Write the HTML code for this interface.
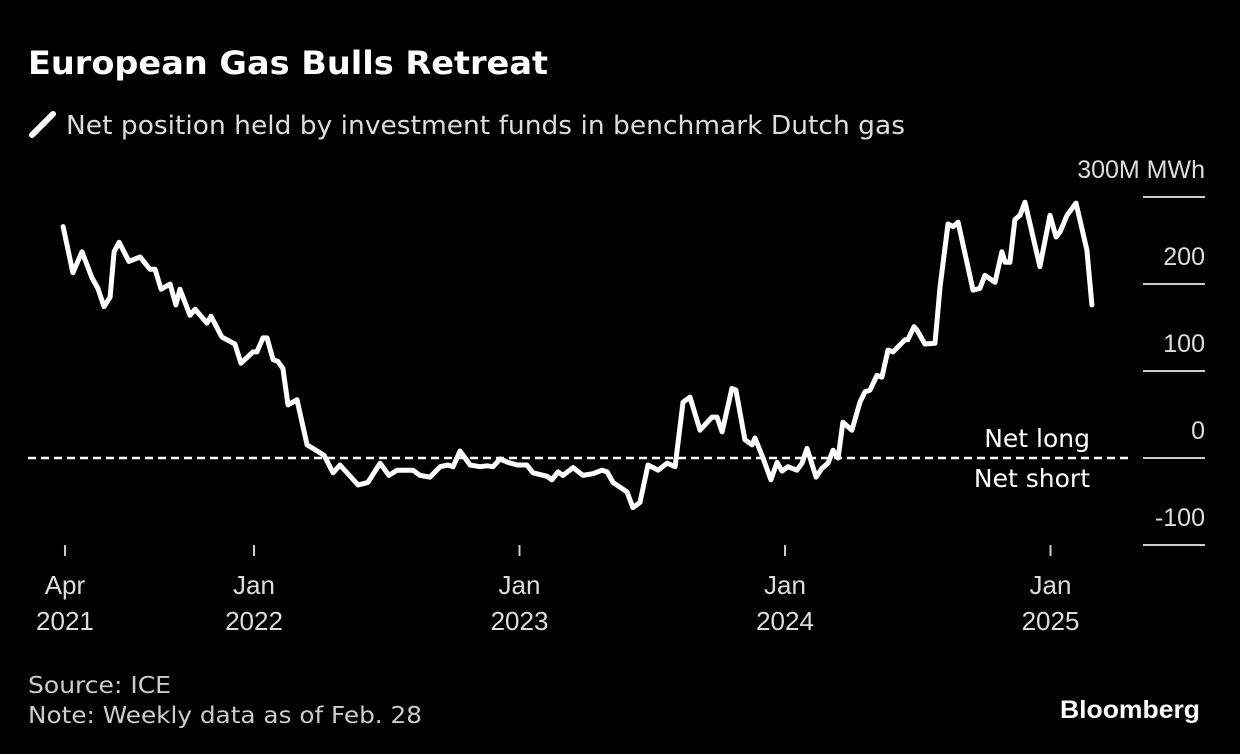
<!DOCTYPE html>
<html><head><meta charset="utf-8"><style>
body{margin:0;background:#000;width:1240px;height:754px;overflow:hidden;font-family:"Liberation Sans",sans-serif;color:#fff}
svg{position:absolute;left:0;top:0}
</style></head><body>
<svg width="1240" height="754">
<text x="28" y="74" font-size="32" font-weight="bold" fill="#fff" font-family="DejaVu Sans, sans-serif" textLength="520" lengthAdjust="spacingAndGlyphs">European Gas Bulls Retreat</text>
<line x1="32" y1="135" x2="53" y2="114" stroke="#fff" stroke-width="6" stroke-linecap="round"/>
<text x="66" y="134" font-size="26" fill="#ddd" font-family="DejaVu Sans, sans-serif" textLength="839" lengthAdjust="spacingAndGlyphs">Net position held by investment funds in benchmark Dutch gas</text>
<g id="axes"></g>
<text x="1090" y="447" font-size="25" fill="#fff" text-anchor="end" font-family="DejaVu Sans, sans-serif">Net long</text>
<text x="1090" y="487" font-size="25" fill="#fff" text-anchor="end" font-family="DejaVu Sans, sans-serif">Net short</text>
<path id="line" fill="none" stroke="#fff" stroke-width="5" stroke-linejoin="round" stroke-linecap="round"/>
<text x="28" y="693" font-size="23" fill="#ccc" font-family="DejaVu Sans, sans-serif" textLength="143" lengthAdjust="spacingAndGlyphs">Source: ICE</text>
<text x="28" y="723" font-size="23" fill="#ccc" font-family="DejaVu Sans, sans-serif" textLength="394" lengthAdjust="spacingAndGlyphs">Note: Weekly data as of Feb. 28</text>
<text x="1200" y="718" font-size="25" font-weight="bold" fill="#fff" text-anchor="end" textLength="140" lengthAdjust="spacingAndGlyphs">Bloomberg</text>
</svg>
<script>
const dates=[2021.281,2021.318,2021.352,2021.390,2021.412,2021.435,2021.458,2021.473,2021.492,2021.529,2021.571,2021.608,2021.627,2021.650,2021.684,2021.706,2021.721,2021.759,2021.778,2021.823,2021.838,2021.879,2021.928,2021.951,2021.996,2022.011,2022.034,2022.049,2022.072,2022.090,2022.109,2022.128,2022.162,2022.200,2022.249,2022.264,2022.298,2022.324,2022.392,2022.429,2022.475,2022.508,2022.539,2022.599,2022.625,2022.663,2022.701,2022.731,2022.750,2022.776,2022.814,2022.851,2022.878,2022.900,2022.927,2022.957,2022.991,2023.028,2023.051,2023.104,2023.122,2023.145,2023.164,2023.202,2023.239,2023.277,2023.311,2023.330,2023.352,2023.405,2023.427,2023.454,2023.484,2023.522,2023.556,2023.586,2023.616,2023.642,2023.680,2023.725,2023.744,2023.763,2023.800,2023.815,2023.849,2023.876,2023.887,2023.917,2023.947,2023.970,2023.989,2024.011,2024.045,2024.064,2024.083,2024.117,2024.139,2024.162,2024.181,2024.200,2024.218,2024.252,2024.282,2024.301,2024.320,2024.346,2024.365,2024.388,2024.407,2024.452,2024.463,2024.486,2024.497,2024.527,2024.565,2024.584,2024.614,2024.633,2024.652,2024.708,2024.734,2024.753,2024.791,2024.817,2024.829,2024.847,2024.866,2024.885,2024.904,2024.960,2024.998,2025.021,2025.036,2025.062,2025.096,2025.137,2025.156];
const values=[266,213,237,207,195,174,185,237,248,226,231,217,217,194,200,176,194,164,171,155,163,139,131,109,122,122,138,138,113,111,103,61,67,15,6,3,-17,-8,-31,-28,-6,-20,-14,-14,-20,-22,-10,-8,-10,8,-8,-10,-9,-10,-1,-5,-8,-8,-17,-21,-25,-16,-20,-11,-20,-18,-14,-16,-28,-39,-57,-51,-8,-14,-6,-10,64,70,32,47,47,30,80,78,21,15,23,0,-25,-5,-15,-10,-14,-6,11,-22,-12,-6,9,0,41,32,64,76,78,95,93,124,122,136,136,151,147,131,132,197,269,266,271,193,195,210,202,237,225,225,274,279,294,220,279,254,260,279,293,239,176];
const yTicks=[300,200,100,0,-100];
const yTickLabels=["300M MWh","200","100","0","-100"];
const xTicks=[2021.288,2022,2023,2024,2025];
const xTickLabels=[["Apr","2021"],["Jan","2022"],["Jan","2023"],["Jan","2024"],["Jan","2025"]];
const NS="http://www.w3.org/2000/svg";
const X=t=>254+(t-2022)*265.5;
const Y=v=>458-v*0.87;
const g=document.getElementById('axes');
function mk(tag,attrs,txt){const e=document.createElementNS(NS,tag);for(const k in attrs)e.setAttribute(k,attrs[k]);if(txt!==undefined)e.textContent=txt;g.appendChild(e);return e;}
yTicks.forEach((v,i)=>{
  const l=mk('line',{x1:1143,x2:1205,y1:Y(v),y2:Y(v),stroke:'#ccc','stroke-width':2});
  
  
  const t=mk('text',{x:1205,y:Y(v)-19,'font-size':25,fill:'#ddd','text-anchor':'end'},yTickLabels[i]);
  
  
});
const z=mk('line',{x1:28,x2:1130,y1:Y(0),y2:Y(0),stroke:'#fff','stroke-width':2.5,'stroke-dasharray':'8 5'});


xTicks.forEach((t,i)=>{
  const x=X(t);
  const l=mk('line',{x1:x,x2:x,y1:545,y2:556,stroke:'#ccc','stroke-width':2});
  
  
  const a=mk('text',{x:x,y:594,'font-size':26,fill:'#ddd','text-anchor':'middle'},xTickLabels[i][0]);
  
  
  const b=mk('text',{x:x,y:630,'font-size':26,fill:'#ddd','text-anchor':'middle'},xTickLabels[i][1]);
  
  
});
document.getElementById('line').setAttribute('d',dates.map((t,i)=>(i?'L':'M')+X(t).toFixed(1)+','+Y(values[i]).toFixed(1)).join(''));
</script>
</body></html>
